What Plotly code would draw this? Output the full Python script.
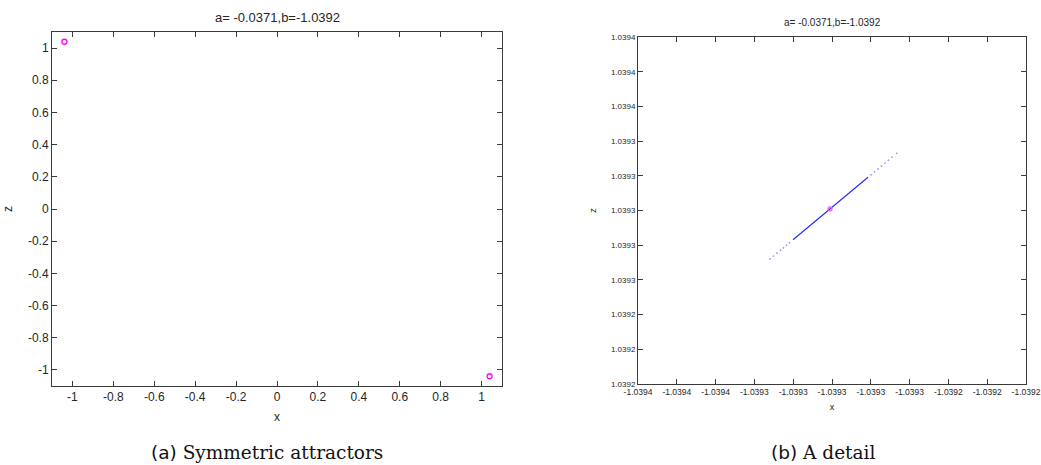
import plotly.graph_objects as go

# ---------------- data ----------------
title_text = "a= -0.0371,b=-1.0392"

# panel (a): the two symmetric attractors (fixed points)
attr_x = [-1.0393, 1.0393]
attr_z = [1.0393, -1.0393]

a_tick_vals = [-1.0, -0.8, -0.6, -0.4, -0.2, 0.0, 0.2, 0.4, 0.6, 0.8, 1.0]
a_tick_text = ["-1", "-0.8", "-0.6", "-0.4", "-0.2", "0", "0.2", "0.4", "0.6", "0.8", "1"]

# panel (b): detail around the attractor at (-1.0393, 1.0393)
core_x = [-1.03932010, -1.03928144]
core_z = [1.03928311, 1.03931919]

tail_x = [-1.03933196, -1.03933016, -1.03932835, -1.03932655, -1.03932500,
          -1.03932345, -1.03932191,
          -1.03927990, -1.03927809, -1.03927629, -1.03927449, -1.03927268,
          -1.03927088, -1.03926907, -1.03926665]
tail_z = [1.03927205, 1.03927373, 1.03927541, 1.03927710, 1.03927854,
          1.03927998, 1.03928142,
          1.03932061, 1.03932229, 1.03932398, 1.03932566, 1.03932734,
          1.03932903, 1.03933071, 1.03933297]

fixed_x = [-1.0393010]
fixed_z = [1.0393009]

b_xtick_vals = [-1.0394, -1.03938, -1.03936, -1.03934, -1.03932, -1.0393,
                -1.03928, -1.03926, -1.03924, -1.03922, -1.0392]
b_xtick_text = ["-1.0394", "-1.0394", "-1.0394", "-1.0393", "-1.0393", "-1.0393",
                "-1.0393", "-1.0393", "-1.0392", "-1.0392", "-1.0392"]
b_ytick_vals = [1.0392, 1.03922, 1.03924, 1.03926, 1.03928, 1.0393,
                1.03932, 1.03934, 1.03936, 1.03938, 1.0394]
b_ytick_text = ["1.0392", "1.0392", "1.0392", "1.0393", "1.0393", "1.0393",
                "1.0393", "1.0393", "1.0394", "1.0394", "1.0394"]

caption_a = ("(a)", "Symmetric attractors")
caption_b = ("(b)", "A detail")

# ---------------- figure ----------------
W, H = 1041, 465
TXT = "#262626"
LINE = "#3a3a3a"
SANS = "Liberation Sans, Arial, sans-serif"
EPS = 1e-10

fig = go.Figure()

fig.add_trace(go.Scatter(
    x=attr_x, y=attr_z, mode="markers", xaxis="x", yaxis="y",
    marker=dict(symbol="circle-open", size=5, color="#ff00ff", line=dict(width=1.3, color="#ff00ff")),
    showlegend=False, hoverinfo="skip"))

fig.add_trace(go.Scatter(
    x=core_x, y=core_z, mode="lines", xaxis="x2", yaxis="y2",
    line=dict(color="#2a2aff", width=1.2),
    showlegend=False, hoverinfo="skip"))
fig.add_trace(go.Scatter(
    x=tail_x, y=tail_z, mode="markers", xaxis="x2", yaxis="y2",
    marker=dict(size=1.8, color="rgba(70,70,255,0.55)"),
    showlegend=False, hoverinfo="skip"))
fig.add_trace(go.Scatter(
    x=fixed_x, y=fixed_z, mode="markers", xaxis="x2", yaxis="y2",
    marker=dict(symbol="circle-open", size=4, color="#ff40ff", line=dict(width=1.2, color="#ff40ff")),
    showlegend=False, hoverinfo="skip"))

common = dict(showline=True, linecolor=LINE, linewidth=1, mirror="ticks",
              ticks="inside", ticklen=5, tickcolor=LINE, showgrid=False,
              zeroline=False, tickmode="array", automargin=False,
              ticklabeloverflow="allow")

fig.update_layout(
    width=W, height=H,
    margin=dict(l=0, r=0, t=0, b=0, autoexpand=False),
    paper_bgcolor="white", plot_bgcolor="white",
    font=dict(family=SANS, color=TXT),
    xaxis=dict(common, domain=[52 / W, 502 / W], range=[-1.1, 1.1], anchor="y",
               tickvals=a_tick_vals, ticktext=a_tick_text,
               tickfont=dict(size=12, color=TXT),
               title=dict(text="x", font=dict(size=12, color=TXT), standoff=9)),
    yaxis=dict(common, domain=[1 - 386 / H, 1 - 32 / H], range=[-1.1, 1.1], anchor="x",
               tickvals=a_tick_vals, ticktext=a_tick_text,
               tickfont=dict(size=12, color=TXT),
               title=dict(text="z", font=dict(size=12, color=TXT), standoff=12)),
    xaxis2=dict(common, domain=[638 / W, 1026 / W], range=[-1.0394 - EPS, -1.0392 + EPS], anchor="y2",
                tickvals=b_xtick_vals, ticktext=b_xtick_text, tickangle=0,
                tickfont=dict(size=8.5, color=TXT),
                title=dict(text="x", font=dict(size=9, color=TXT), standoff=7)),
    yaxis2=dict(common, domain=[1 - 384 / H, 1 - 37 / H], range=[1.0392 - EPS, 1.0394 + EPS], anchor="x2",
                tickvals=b_ytick_vals, ticktext=b_ytick_text,
                tickfont=dict(size=8, color=TXT),
                title=dict(text="z", font=dict(size=9, color=TXT), standoff=12)),
)

anns = [
    dict(x=277 / W, y=1 - 18 / H, text=title_text, font=dict(size=13, color=TXT, family=SANS)),
    dict(x=832 / W, y=1 - 22 / H, text=title_text, font=dict(size=10, color=TXT, family=SANS)),
    dict(x=267 / W, y=1 - 452 / H,
         text=f"<span style='font-family:DejaVu Sans'>{caption_a[0]}</span> {caption_a[1]}",
         font=dict(size=18.5, color="#111111", family="DejaVu Serif, serif")),
    dict(x=823 / W, y=1 - 452 / H,
         text=f"<span style='font-family:DejaVu Sans'>{caption_b[0]}</span> {caption_b[1]}",
         font=dict(size=18.5, color="#111111", family="DejaVu Serif, serif")),
]
for a in anns:
    a.update(xref="paper", yref="paper", showarrow=False, xanchor="center", yanchor="middle",
             borderpad=0)
fig.update_layout(annotations=anns)

fig.write_html("out.html")
